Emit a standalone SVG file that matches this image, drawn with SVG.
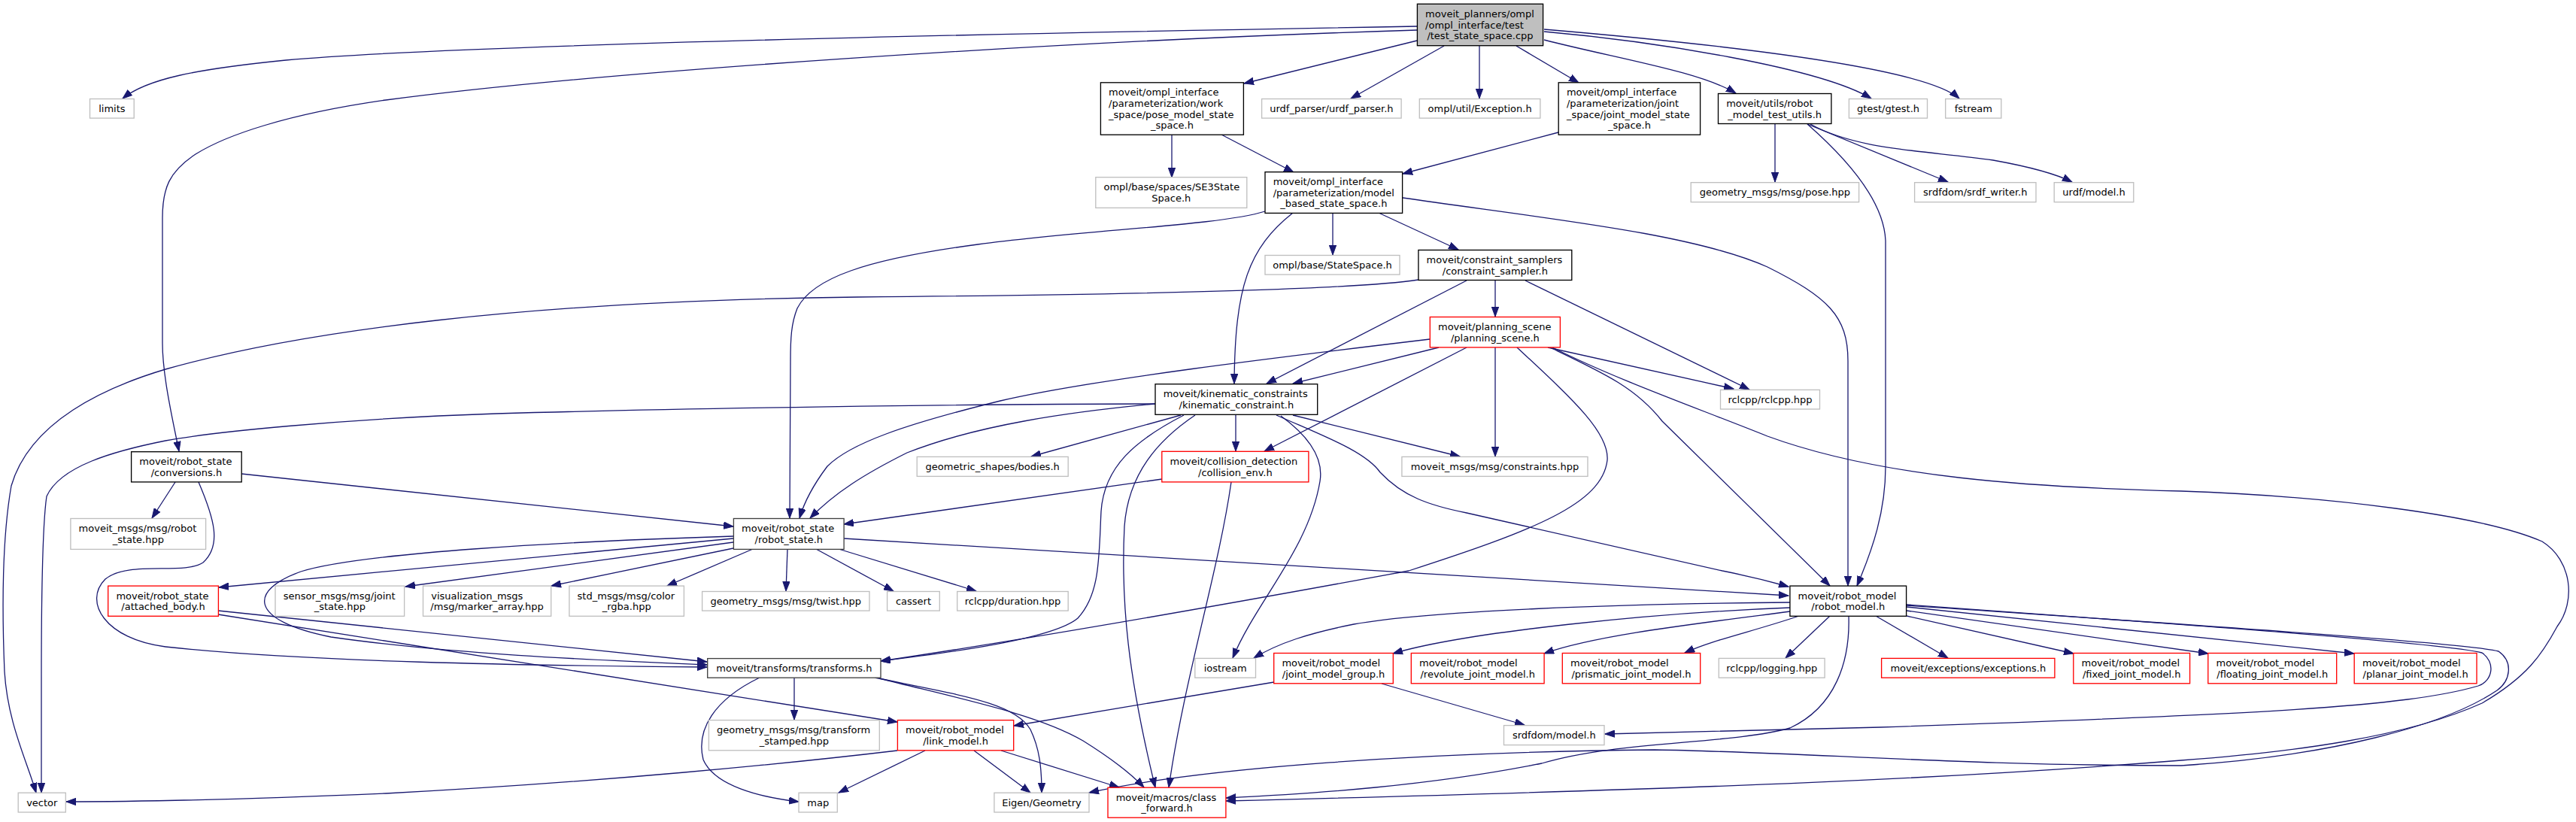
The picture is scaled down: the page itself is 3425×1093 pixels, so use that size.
<svg xmlns="http://www.w3.org/2000/svg" width="3425" height="1093" viewBox="0 0 3425 1093">
<style>
rect{fill:#fff;stroke-width:1.33}
.k{stroke:#000}
.g{stroke:#bfbfbf}
.r{stroke:#ff0000}
.d{stroke:#404040}
.root{fill:#bfbfbf;stroke:#000}
text{font-family:"DejaVu Sans","Liberation Sans",sans-serif;font-size:13px;fill:#000}
.c{text-anchor:middle}
#edges path{fill:none;stroke:#191970;stroke-width:1.3;marker-end:url(#a)}
</style>
<defs>
<marker id="a" markerUnits="userSpaceOnUse" markerWidth="14" markerHeight="10" refX="13" refY="5" orient="auto" viewBox="0 0 14 10">
<path d="M0,0.3 L13,5 L0,9.7 z" fill="#191970" stroke="#191970" stroke-width="1"/>
</marker>
</defs>
<rect x="0" y="0" width="3425" height="1093" style="fill:#fff;stroke:none"/>
<g id="edges">
<path d="M1884,35 C1300,45 600,60 380,80 C260,92 195,105 163,131"/>
<path d="M1884,40 C1400,55 800,95 513,133 C380,152 300,180 260,205 C225,228 216,250 216,290 L216,456 C216,500 230,560 238,600"/>
<path d="M1884,54 L1654,111"/>
<path d="M1920,61 L1796,131"/>
<path d="M1967,61 L1967,131"/>
<path d="M2016,61 L2099,110"/>
<path d="M2053,53 C2150,78 2260,95 2308,124"/>
<path d="M2053,42 C2200,55 2420,90 2488,131"/>
<path d="M2053,39 C2300,60 2560,90 2605,131"/>
<path d="M1558,179 L1558,236"/>
<path d="M1624,179 L1720,229"/>
<path d="M2072,176 L1865,231"/>
<path d="M1772,283 L1772,339"/>
<path d="M1833,283 L1939,332"/>
<path d="M1719,283 C1660,330 1642,380 1641,510"/>
<path d="M1682,281 C1620,300 1450,305 1300,325 C1150,345 1080,370 1060,410 C1052,430 1051,450 1051,480 L1050,689"/>
<path d="M1865,263 C2050,290 2250,310 2350,355 C2430,395 2457,420 2457,480 L2457,779"/>
<path d="M2360,165 L2360,242"/>
<path d="M2403,165 L2590,242"/>
<path d="M2407,165 C2470,200 2560,200 2650,213 C2700,222 2735,232 2755,242"/>
<path d="M2403,165 C2460,215 2505,270 2507,320 L2507,620 C2507,680 2490,730 2469,779"/>
<path d="M1886,372 C1800,385 1500,392 1140,395 C700,400 400,440 220,491 C140,515 40,560 15,646 C2,720 3,820 6,893 C10,960 35,1010 48,1054"/>
<path d="M1950,373 L1684,510"/>
<path d="M1988,373 L1988,421"/>
<path d="M2028,373 L2326,518"/>
<path d="M1901,451 C1700,475 1450,505 1330,533 C1200,565 1130,590 1100,620 C1085,640 1070,665 1063,689"/>
<path d="M1913,462 L1719,510"/>
<path d="M1950,462 L1681,600"/>
<path d="M1988,462 L1988,607"/>
<path d="M2017,462 C2090,530 2140,575 2137,612 C2130,670 2040,705 1873,759 C1650,800 1400,845 1171,879"/>
<path d="M2058,462 L2305,517"/>
<path d="M2061,462 C2130,495 2175,515 2210,560 L2433,779"/>
<path d="M2064,462 C2150,505 2250,540 2350,580 C2500,635 2700,648 2900,653 C3100,660 3300,685 3380,720 C3420,745 3425,800 3400,833 C3380,870 3360,900 3300,935 C3200,980 3050,1000 2900,1011 C2600,1035 2300,1048 1630,1065"/>
<path d="M1536,537 C1300,537 900,543 660,550 C450,557 280,575 220,586 C150,600 80,620 62,660 C56,700 55,800 55,900 L55,1054"/>
<path d="M1536,537 C1420,548 1300,565 1206,602 C1150,630 1110,655 1077,689"/>
<path d="M1570,552 L1371,607"/>
<path d="M1643,552 L1643,600"/>
<path d="M1719,552 L1941,607"/>
<path d="M1574,552 C1510,585 1468,620 1464,680 C1461,740 1463,790 1433,822 C1400,850 1260,868 1171,879"/>
<path d="M1589,552 C1540,585 1500,630 1495,700 C1490,800 1500,900 1536,1047"/>
<path d="M1703,553 C1740,580 1760,610 1755,640 C1740,730 1670,800 1639,875"/>
<path d="M1697,552 C1760,580 1815,600 1835,628 C1865,660 1900,672 1950,682 L2290,759 C2330,767 2360,775 2378,780"/>
<path d="M1545,637 L1122,697"/>
<path d="M1637,641 C1620,760 1575,900 1554,1047"/>
<path d="M233,641 L202,689"/>
<path d="M321,630 L975,700"/>
<path d="M264,641 C285,690 295,725 270,748 C245,765 170,745 140,770 C110,800 140,850 220,860 C400,880 700,885 940,887"/>
<path d="M975,713 C750,720 480,735 400,760 C330,785 330,825 440,847 C600,870 800,878 940,884"/>
<path d="M975,716 L291,781"/>
<path d="M975,721 L539,780"/>
<path d="M975,729 L733,779"/>
<path d="M1001,730 L887,779"/>
<path d="M1047,730 L1045,786"/>
<path d="M1085,730 L1188,786"/>
<path d="M1115,730 L1298,786"/>
<path d="M1122,716 L2378,792"/>
<path d="M290,812 L940,880"/>
<path d="M290,817 L1193,960"/>
<path d="M1010,901 C950,930 925,970 935,1010 C950,1045 1010,1060 1062,1066"/>
<path d="M1056,901 L1056,957"/>
<path d="M1163,901 C1280,925 1350,935 1370,970 C1382,995 1385,1020 1385,1054"/>
<path d="M1169,902 C1280,930 1380,950 1440,985 C1480,1010 1505,1030 1521,1047"/>
<path d="M1193,998 C1050,1015 800,1040 513,1055 C300,1064 150,1066 88,1066"/>
<path d="M1230,998 L1115,1054"/>
<path d="M1295,998 L1370,1054"/>
<path d="M1331,998 L1488,1047"/>
<path d="M1694,907 L1348,965"/>
<path d="M1837,909 L2027,964"/>
<path d="M2380,801 C2150,803 1900,812 1800,830 C1740,842 1700,855 1667,875"/>
<path d="M2380,808 C2200,815 1950,840 1852,869"/>
<path d="M2380,813 C2250,830 2120,845 2053,869"/>
<path d="M2392,819 C2330,840 2280,850 2240,868"/>
<path d="M2433,819 L2374,875"/>
<path d="M2494,819 L2590,875"/>
<path d="M2535,819 L2757,869"/>
<path d="M2535,812 L2936,869"/>
<path d="M2535,807 L3130,869"/>
<path d="M2535,804 C2900,830 3250,855 3300,868 C3318,880 3315,905 3295,912 C3200,940 3000,950 2500,967 L2134,976"/>
<path d="M2535,805 C2900,830 3280,855 3322,866 C3342,880 3338,905 3320,918 C3250,965 3100,1005 2900,1018 C2600,1018 2400,1000 2200,997 C1900,1000 1600,1020 1448,1054"/>
<path d="M2458,819 C2460,880 2440,940 2380,968 C2300,990 2150,985 2050,1015 C1900,1045 1750,1055 1630,1061"/>
</g>
<g id="n_root"><rect class="root" x="1884.4" y="5.3" width="167.2" height="55.4"/><text x="1895.1" y="23.1">moveit_planners/ompl</text><text x="1895.1" y="37.7">/ompl_interface/test</text><text class="c" x="1968" y="52.3">/test_state_space.cpp</text></g>
<g id="n_limits"><rect class="g" x="119.5" y="131.5" width="58.7" height="25.6"/><text class="c" x="148.9" y="149">limits</text></g>
<g id="n_conversions"><rect class="k" x="174.6" y="600.7" width="146.6" height="40.2"/><text x="185.3" y="618.2">moveit/robot_state</text><text class="c" x="247.9" y="632.8">/conversions.h</text></g>
<g id="n_pose_mss"><rect class="k" x="1463.4" y="109.8" width="190" height="69.4"/><text x="1474.1" y="127.3">moveit/ompl_interface</text><text x="1474.1" y="141.9">/parameterization/work</text><text x="1474.1" y="156.5">_space/pose_model_state</text><text class="c" x="1558.4" y="171.1">_space.h</text></g>
<g id="n_urdf_parser"><rect class="g" x="1677.6" y="131.5" width="185.5" height="25.6"/><text class="c" x="1770.4" y="149">urdf_parser/urdf_parser.h</text></g>
<g id="n_exception"><rect class="g" x="1887.3" y="131.5" width="160.6" height="25.6"/><text class="c" x="1967.6" y="149">ompl/util/Exception.h</text></g>
<g id="n_joint_mss"><rect class="k" x="2072.2" y="109.8" width="188.4" height="69.4"/><text x="2082.9" y="127.3">moveit/ompl_interface</text><text x="2082.9" y="141.9">/parameterization/joint</text><text x="2082.9" y="156.5">_space/joint_model_state</text><text class="c" x="2166.4" y="171.1">_space.h</text></g>
<g id="n_test_utils"><rect class="k" x="2284.5" y="124.5" width="150.4" height="40"/><text x="2295.2" y="141.9">moveit/utils/robot</text><text class="c" x="2359.7" y="156.5">_model_test_utils.h</text></g>
<g id="n_gtest"><rect class="g" x="2458.4" y="131.5" width="104.1" height="25.6"/><text class="c" x="2510.5" y="149">gtest/gtest.h</text></g>
<g id="n_fstream"><rect class="g" x="2586.7" y="131.5" width="74.1" height="25.6"/><text class="c" x="2623.8" y="149">fstream</text></g>
<g id="n_se3"><rect class="g" x="1456.8" y="235.7" width="201" height="40.7"/><text x="1467.5" y="253.4">ompl/base/spaces/SE3State</text><text class="c" x="1557.3" y="268">Space.h</text></g>
<g id="n_model_based"><rect class="k" x="1682" y="228.7" width="182.6" height="54.7"/><text x="1692.7" y="246.1">moveit/ompl_interface</text><text x="1692.7" y="260.7">/parameterization/model</text><text class="c" x="1773.3" y="275.3">_based_state_space.h</text></g>
<g id="n_pose_hpp"><rect class="g" x="2248.2" y="242.7" width="223.4" height="26"/><text class="c" x="2359.9" y="260.4">geometry_msgs/msg/pose.hpp</text></g>
<g id="n_srdf_writer"><rect class="g" x="2545.6" y="242.7" width="161.4" height="26"/><text class="c" x="2626.3" y="260.4">srdfdom/srdf_writer.h</text></g>
<g id="n_urdf_model"><rect class="g" x="2731.2" y="242.7" width="105.6" height="26"/><text class="c" x="2784" y="260.4">urdf/model.h</text></g>
<g id="n_statespace"><rect class="g" x="1682" y="339.5" width="179" height="25.6"/><text class="c" x="1771.5" y="357">ompl/base/StateSpace.h</text></g>
<g id="n_constraint_sampler"><rect class="k" x="1885.9" y="332.5" width="203.9" height="40"/><text x="1896.6" y="349.9">moveit/constraint_samplers</text><text class="c" x="1987.9" y="364.5">/constraint_sampler.h</text></g>
<g id="n_planning_scene"><rect class="r" x="1901.3" y="421.5" width="173.1" height="40.4"/><text x="1912" y="439.1">moveit/planning_scene</text><text class="c" x="1987.9" y="453.7">/planning_scene.h</text></g>
<g id="n_rclcpp"><rect class="g" x="2287.5" y="518.4" width="132" height="25.6"/><text class="c" x="2353.5" y="535.9">rclcpp/rclcpp.hpp</text></g>
<g id="n_kinematic"><rect class="k" x="1536" y="510.7" width="215.7" height="40.6"/><text x="1546.7" y="528.4">moveit/kinematic_constraints</text><text class="c" x="1643.9" y="543">/kinematic_constraint.h</text></g>
<g id="n_robot_state_hpp"><rect class="g" x="93.9" y="689.5" width="179.7" height="40.9"/><text x="104.6" y="707.4">moveit_msgs/msg/robot</text><text class="c" x="183.8" y="722">_state.hpp</text></g>
<g id="n_robot_state"><rect class="d" x="975.4" y="689.5" width="146.7" height="40.9"/><text x="986.1" y="707.4">moveit/robot_state</text><text class="c" x="1048.8" y="722">/robot_state.h</text></g>
<g id="n_bodies"><rect class="g" x="1219.2" y="607.4" width="201" height="26"/><text class="c" x="1319.7" y="625.1">geometric_shapes/bodies.h</text></g>
<g id="n_collision_env"><rect class="r" x="1544.8" y="600.3" width="195.1" height="40.6"/><text x="1555.5" y="618">moveit/collision_detection</text><text class="c" x="1642.4" y="632.6">/collision_env.h</text></g>
<g id="n_constraints"><rect class="g" x="1863.9" y="607.4" width="247.1" height="26"/><text class="c" x="1987.5" y="625.1">moveit_msgs/msg/constraints.hpp</text></g>
<g id="n_attached_body"><rect class="r" x="143.7" y="779.1" width="146.7" height="40.2"/><text x="154.4" y="796.6">moveit/robot_state</text><text class="c" x="217" y="811.2">/attached_body.h</text></g>
<g id="n_joint_state"><rect class="g" x="366" y="779.1" width="171.6" height="40.2"/><text x="376.7" y="796.6">sensor_msgs/msg/joint</text><text class="c" x="451.8" y="811.2">_state.hpp</text></g>
<g id="n_marker_array"><rect class="g" x="562.5" y="779.1" width="170.2" height="40.2"/><text x="573.2" y="796.6">visualization_msgs</text><text class="c" x="647.6" y="811.2">/msg/marker_array.hpp</text></g>
<g id="n_color_rgba"><rect class="g" x="756.9" y="779.1" width="152.5" height="40.2"/><text x="767.6" y="796.6">std_msgs/msg/color</text><text class="c" x="833.2" y="811.2">_rgba.hpp</text></g>
<g id="n_twist"><rect class="g" x="933.6" y="786.5" width="222.4" height="25.6"/><text class="c" x="1044.8" y="804">geometry_msgs/msg/twist.hpp</text></g>
<g id="n_cassert"><rect class="g" x="1179.6" y="786.5" width="69.7" height="25.6"/><text class="c" x="1214.5" y="804">cassert</text></g>
<g id="n_duration"><rect class="g" x="1272.7" y="786.5" width="147.5" height="25.6"/><text class="c" x="1346.5" y="804">rclcpp/duration.hpp</text></g>
<g id="n_robot_model"><rect class="k" x="2379.9" y="779.1" width="154.7" height="40.2"/><text x="2390.6" y="796.6">moveit/robot_model</text><text class="c" x="2457.3" y="811.2">/robot_model.h</text></g>
<g id="n_transforms"><rect class="d" x="940.7" y="875.6" width="230.3" height="25.6"/><text class="c" x="1055.9" y="893.1">moveit/transforms/transforms.h</text></g>
<g id="n_iostream"><rect class="g" x="1588.8" y="875.4" width="80.7" height="25.8"/><text class="c" x="1629.2" y="893">iostream</text></g>
<g id="n_jmg"><rect class="r" x="1693.7" y="868.5" width="158.6" height="40.3"/><text x="1704.4" y="886">moveit/robot_model</text><text class="c" x="1773" y="900.6">/joint_model_group.h</text></g>
<g id="n_revolute"><rect class="r" x="1876.3" y="868.5" width="176.8" height="40.3"/><text x="1887" y="886">moveit/robot_model</text><text class="c" x="1964.7" y="900.6">/revolute_joint_model.h</text></g>
<g id="n_prismatic"><rect class="r" x="2077.3" y="868.5" width="183.4" height="40.3"/><text x="2088" y="886">moveit/robot_model</text><text class="c" x="2169" y="900.6">/prismatic_joint_model.h</text></g>
<g id="n_logging"><rect class="g" x="2285.3" y="875.4" width="140.8" height="25.8"/><text class="c" x="2355.7" y="893">rclcpp/logging.hpp</text></g>
<g id="n_exceptions"><rect class="r" x="2501.6" y="875.4" width="230.3" height="25.8"/><text class="c" x="2616.8" y="893">moveit/exceptions/exceptions.h</text></g>
<g id="n_fixed"><rect class="r" x="2756.8" y="868.5" width="154.8" height="40.3"/><text x="2767.5" y="886">moveit/robot_model</text><text class="c" x="2834.2" y="900.6">/fixed_joint_model.h</text></g>
<g id="n_floating"><rect class="r" x="2935.8" y="868.5" width="170.9" height="40.3"/><text x="2946.5" y="886">moveit/robot_model</text><text class="c" x="3021.3" y="900.6">/floating_joint_model.h</text></g>
<g id="n_planar"><rect class="r" x="3130.2" y="868.5" width="162.8" height="40.3"/><text x="3140.9" y="886">moveit/robot_model</text><text class="c" x="3211.6" y="900.6">/planar_joint_model.h</text></g>
<g id="n_transform_stamped"><rect class="g" x="942.4" y="957.6" width="226.9" height="40.2"/><text x="953.1" y="975.1">geometry_msgs/msg/transform</text><text class="c" x="1055.9" y="989.7">_stamped.hpp</text></g>
<g id="n_link_model"><rect class="r" x="1193.4" y="957.6" width="154.3" height="40.2"/><text x="1204.1" y="975.1">moveit/robot_model</text><text class="c" x="1270.6" y="989.7">/link_model.h</text></g>
<g id="n_srdf_model"><rect class="g" x="1999.5" y="964.6" width="133.5" height="26"/><text class="c" x="2066.3" y="982.3">srdfdom/model.h</text></g>
<g id="n_vector"><rect class="g" x="24.2" y="1054.2" width="63.1" height="25.8"/><text class="c" x="55.8" y="1071.8">vector</text></g>
<g id="n_map"><rect class="g" x="1062" y="1054.2" width="51.3" height="25.8"/><text class="c" x="1087.7" y="1071.8">map</text></g>
<g id="n_eigen"><rect class="g" x="1321.9" y="1054.2" width="126.1" height="25.8"/><text class="c" x="1385" y="1071.8">Eigen/Geometry</text></g>
<g id="n_class_forward"><rect class="r" x="1473" y="1047.2" width="156.9" height="40"/><text x="1483.7" y="1064.6">moveit/macros/class</text><text class="c" x="1551.5" y="1079.2">_forward.h</text></g>
</svg>
